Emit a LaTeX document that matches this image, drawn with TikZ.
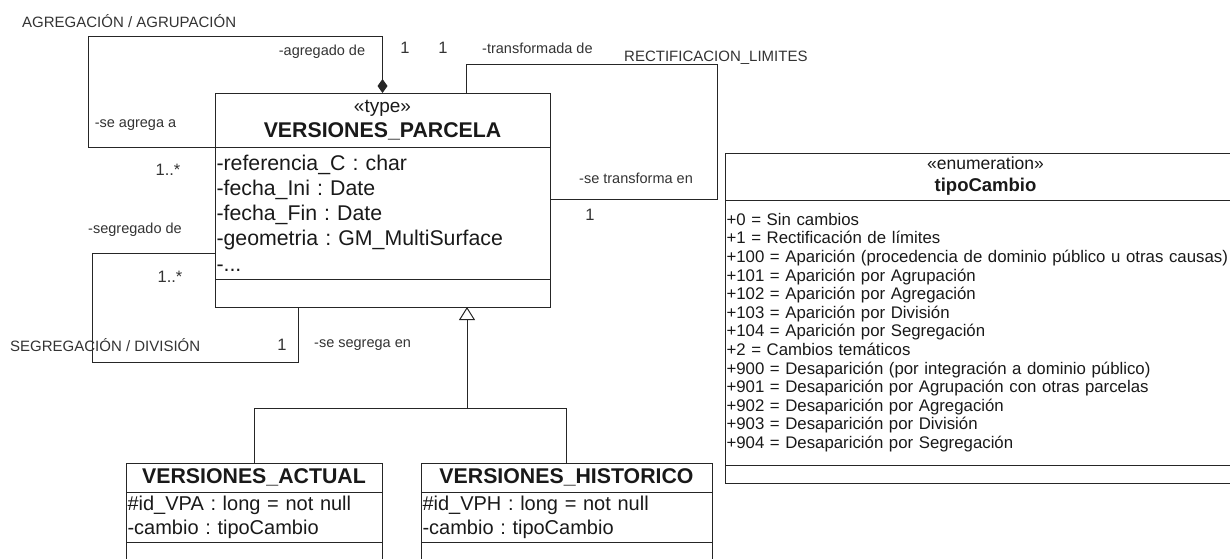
\documentclass[tikz,border=0pt]{standalone}
\usepackage{fontspec}
\setmainfont{Liberation Sans}
\usetikzlibrary{positioning, arrows.meta, calc}
\frenchspacing

\begin{document}
\begin{tikzpicture}[
    x=1pt, y=-1pt,
    umlhead/.style={rectangle, draw=black!85, line width=1pt, inner sep=0pt, outer sep=0pt,
                align=center, text=black!90},
    umlbody/.style={rectangle, draw=black!85, line width=1pt, inner xsep=1.5pt, inner ysep=0pt,
                outer sep=0pt, align=left, text=black!90},
    role/.style={font=\fontsize{14.5}{16}\selectfont, text=black!80, inner sep=0pt},
    mult/.style={font=\fontsize{16.5}{18}\selectfont, text=black!80, inner sep=0pt},
    caps/.style={font=\fontsize{15}{17}\selectfont, text=black!80, inner sep=0pt},
    link/.style={draw=black!85, line width=1pt},
  ]
  \useasboundingbox (0,0) rectangle (1230,558);

  \node[umlhead, minimum width=335pt, minimum height=54pt, font=\fontsize{19}{25}\selectfont]
    (parcela) at (382.5,120) {«type»\\{\fontsize{21.3}{25}\selectfont\bfseries VERSIONES\_PARCELA}};
  \node[umlbody, below=0pt of parcela, minimum width=335pt, minimum height=132pt, text width=332pt,
        font=\fontsize{21.3}{25.25}\selectfont] (parcela-att)
    {-referencia\_C : char\\-fecha\_Ini : Date\\-fecha\_Fin : Date\\-geometria : GM\_MultiSurface\\-...};
  \node[umlbody, below=0pt of parcela-att, minimum width=335pt, minimum height=28pt] (parcela-op) {};

  \node[umlhead, minimum width=521pt, minimum height=47pt, font=\fontsize{17.5}{22}\selectfont]
    (tipo) at (985.5,176.5) {«enumeration»\\{\fontsize{18.5}{22}\selectfont\bfseries tipoCambio}};
  \node[umlbody, below=0pt of tipo, minimum width=521pt, minimum height=265pt, text width=518pt,
        font=\fontsize{16.8}{18.6}\selectfont] (tipo-att)
    {+0 = Sin cambios\\
     +1 = Rectificación de límites\\
     +100 = Aparición (procedencia de dominio público u otras causas)\\
     +101 = Aparición por Agrupación\\
     +102 = Aparición por Agregación\\
     +103 = Aparición por División\\
     +104 = Aparición por Segregación\\
     +2 = Cambios temáticos\\
     +900 = Desaparición (por integración a dominio público)\\
     +901 = Desaparición por Agrupación con otras parcelas\\
     +902 = Desaparición por Agregación\\
     +903 = Desaparición por División\\
     +904 = Desaparición por Segregación};
  \node[umlbody, below=0pt of tipo-att, minimum width=521pt, minimum height=18pt] (tipo-op) {};

  \node[umlhead, minimum width=256pt, minimum height=29pt, font=\fontsize{21.3}{25}\selectfont\bfseries]
    (actual) at (254,477.5) {VERSIONES\_ACTUAL};
  \node[umlbody, below=0pt of actual, minimum width=256pt, minimum height=50pt, text width=253pt,
        font=\fontsize{20}{24}\selectfont] (actual-att)
    {\#id\_VPA : long = not null\\-cambio : tipoCambio};
  \node[umlbody, below=0pt of actual-att, minimum width=256pt, minimum height=30pt] (actual-op) {};

  \node[umlhead, minimum width=291pt, minimum height=29pt, font=\fontsize{21.3}{25}\selectfont\bfseries]
    (historico) at (566.5,477.5) {VERSIONES\_HISTORICO};
  \node[umlbody, below=0pt of historico, minimum width=291pt, minimum height=50pt, text width=288pt,
        font=\fontsize{20}{24}\selectfont] (historico-att)
    {\#id\_VPH : long = not null\\-cambio : tipoCambio};
  \node[umlbody, below=0pt of historico-att, minimum width=291pt, minimum height=30pt] (historico-op) {};

  \coordinate (aggL) at (88,36);
  \coordinate (trfA) at (717,64);
  \coordinate (trfB) at (717,199);
  \coordinate (segA) at (92,253);
  \coordinate (segB) at (298,362);
  \coordinate (gen) at (467,408);

  \draw[link, {Diamond[length=14pt, width=10pt]}-] (parcela.north) |- (aggL) |- (parcela.south west);
  \draw[link] ($(parcela.north west)!0.75!(parcela.north east)$) |- (trfA) -- (trfB)
    -- (parcela-att.east |- trfB);
  \draw[link] (parcela-att.west |- segA) -- (segA) |- (segB) -- (segB |- parcela-op.south);
  \draw[link, -{Triangle[open, length=13pt, width=16pt, fill=white]}] (gen) -- (gen |- parcela-op.south);
  \draw[link] (actual.north) |- (gen) -| (historico.north);

  \node[caps, anchor=west] (aggname) at (22,21) {AGREGACIÓN / AGRUPACIÓN};
  \node[role] (aggfrom) at (322,52) {-agregado de};
  \node[mult] (aggone) at (405,48) {1};
  \node[mult] (trfone) at (443,48) {1};
  \node[role, anchor=west] (trffrom) at (482,48) {-transformada de};
  \node[caps, anchor=west] (trfname) at (624,58) {RECTIFICACION\_LIMITES};
  \node[role] (aggto) at (135.5,125) {-se agrega a};
  \node[mult] (aggmany) at (168,170) {1..*};
  \node[role, anchor=west] (trfto) at (579,178) {-se transforma en};
  \node[mult] (trftoone) at (590,215) {1};
  \node[role] (segfrom) at (135,230) {-segregado de};
  \node[mult] (segmany) at (170,277) {1..*};
  \node[caps, anchor=west] (segname) at (10,345) {SEGREGACIÓN / DIVISIÓN};
  \node[mult] (segone) at (282,345) {1};
  \node[role, anchor=west] (segto) at (314,345) {-se segrega en};
\end{tikzpicture}
\end{document}
